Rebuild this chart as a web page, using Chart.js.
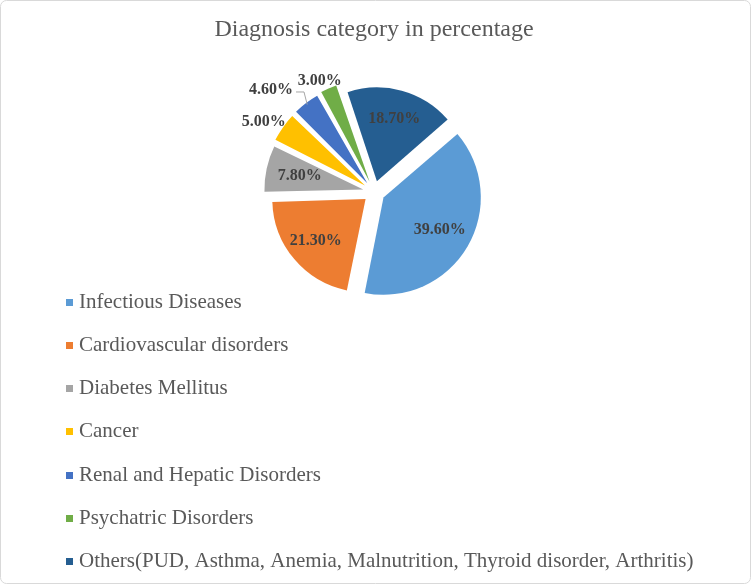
<!DOCTYPE html>
<html>
<head>
<meta charset="utf-8">
<title>Diagnosis category in percentage</title>
<script src="https://cdn.jsdelivr.net/npm/chart.js@4.4.1/dist/chart.umd.min.js"></script>
<style>
  html, body { margin: 0; padding: 0; background: #fff; }
  #wrap { position: relative; width: 751px; height: 584px; }
</style>
</head>
<body>
<div id="wrap"><canvas id="diagChart"></canvas></div>
<script>
// data
const categories = [
  'Infectious Diseases',
  'Cardiovascular disorders',
  'Diabetes Mellitus',
  'Cancer',
  'Renal and Hepatic Disorders',
  'Psychatric Disorders',
  'Others(PUD, Asthma, Anemia, Malnutrition, Thyroid disorder, Arthritis)'
];
const percentages = [39.6, 21.3, 7.8, 5.0, 4.6, 3.0, 18.7];
const sliceColors = ['#5B9BD5', '#ED7D31', '#A5A5A5', '#FFC000', '#4472C4', '#70AD47', '#255E91'];

const SERIF = "'Times New Roman', 'Liberation Serif', serif";
const TEXT_GREY = '#595959';
const EXPLODE = 11;          // px each slice is pulled away from the centre
const INSIDE_MIN = 6;        // slices smaller than this get their label outside

// light rounded frame round the whole chart
const frame = {
  id: 'frame',
  beforeDraw(chart) {
    const c = chart.ctx;
    c.save();
    c.strokeStyle = '#d9d9d9';
    c.lineWidth = 1;
    c.beginPath();
    c.roundRect(0.5, 0.5, chart.width - 1, chart.height - 1, 6);
    c.stroke();
    c.restore();
  }
};

// percentage labels, inside big slices and outside the small ones
const sliceLabels = {
  id: 'sliceLabels',
  afterDatasetsDraw(chart) {
    const c = chart.ctx;
    const meta = chart.getDatasetMeta(0);
    const values = chart.data.datasets[0].data;
    c.save();
    c.font = 'bold 16px ' + SERIF;
    c.fillStyle = '#404040';
    c.textAlign = 'center';
    c.textBaseline = 'middle';

    const outside = [];
    let pieX = 0;
    meta.data.forEach((arc, i) => {
      const p = arc.getProps(['x', 'y', 'startAngle', 'endAngle', 'outerRadius']);
      pieX = p.x;
      const mid = (p.startAngle + p.endAngle) / 2;
      const ux = Math.cos(mid), uy = Math.sin(mid);
      const text = values[i].toFixed(2) + '%';
      if (values[i] >= INSIDE_MIN) {
        const d = EXPLODE + p.outerRadius * 0.7;
        c.fillText(text, p.x + ux * d, p.y + uy * d);
      } else {
        const w = c.measureText(text).width, h = 16;
        const d = EXPLODE + p.outerRadius + 9;
        outside.push({
          text, w, h,
          cx: p.x + ux * d + ux * w / 2,
          cy: p.y + uy * d + uy * h / 2,
          ax: p.x + ux * (EXPLODE + p.outerRadius + 6),
          ay: p.y + uy * (EXPLODE + p.outerRadius + 6),
          moved: false
        });
      }
    });

    // push colliding outside labels away (sideways and a little up), top to bottom
    outside.sort((a, b) => a.cy - b.cy);
    const placed = [];
    outside.forEach(lb => {
      const hit = q => Math.abs(q.cx - lb.cx) < (q.w + lb.w) / 2 + 4 &&
                       Math.abs(q.cy - lb.cy) < (q.h + lb.h) / 2 + 2;
      let guard = 0;
      while (placed.some(hit) && guard++ < 200) {
        lb.cx += lb.cx < pieX ? -1 : 1;
        lb.cy -= 0.3;
        lb.moved = true;
      }
      placed.push(lb);
    });

    placed.forEach(lb => {
      if (lb.moved) {
        const left = lb.cx < pieX;
        const sx = left ? lb.cx + lb.w / 2 + 3 : lb.cx - lb.w / 2 - 3;
        const kx = left ? sx + 8 : sx - 8;
        c.strokeStyle = '#a6a6a6';
        c.lineWidth = 1;
        c.beginPath();
        c.moveTo(sx, lb.cy + 2.5);
        c.lineTo(kx, lb.cy + 2.5);
        c.lineTo(lb.ax, lb.ay);
        c.stroke();
      }
      c.fillText(lb.text, lb.cx, lb.cy);
    });
    c.restore();
  }
};

// vertical legend under the pie
const listLegend = {
  id: 'listLegend',
  afterDraw(chart) {
    const c = chart.ctx;
    const ds = chart.data.datasets[0];
    c.save();
    c.font = '21px ' + SERIF;
    c.textBaseline = 'middle';
    c.textAlign = 'left';
    chart.data.labels.forEach((lbl, i) => {
      const y = 302 + i * 43.3;
      c.fillStyle = ds.backgroundColor[i];
      c.fillRect(66, Math.round(y - 3.5), 7, 7);
      c.fillStyle = TEXT_GREY;
      c.fillText(lbl, 79, y);
    });
    c.restore();
  }
};

new Chart(document.getElementById('diagChart'), {
  type: 'pie',
  data: {
    labels: categories,
    datasets: [{
      data: percentages,
      backgroundColor: sliceColors,
      borderWidth: 0,
      offset: EXPLODE * 4   // Chart.js v4 moves the arc by offset / 4
    }]
  },
  options: {
    responsive: true,
    maintainAspectRatio: false,
    animation: false,
    rotation: 49,
    radius: 93,
    layout: { padding: { top: 5, left: 0, right: 3, bottom: 254 } },
    plugins: {
      legend: { display: false },
      tooltip: { enabled: false },
      title: {
        display: true,
        text: 'Diagnosis category in percentage',
        color: TEXT_GREY,
        font: { family: SERIF, size: 24, weight: 'normal', lineHeight: 1.2 },
        padding: { top: 10, bottom: 10 }
      }
    }
  },
  plugins: [frame, sliceLabels, listLegend]
});
</script>
</body>
</html>
